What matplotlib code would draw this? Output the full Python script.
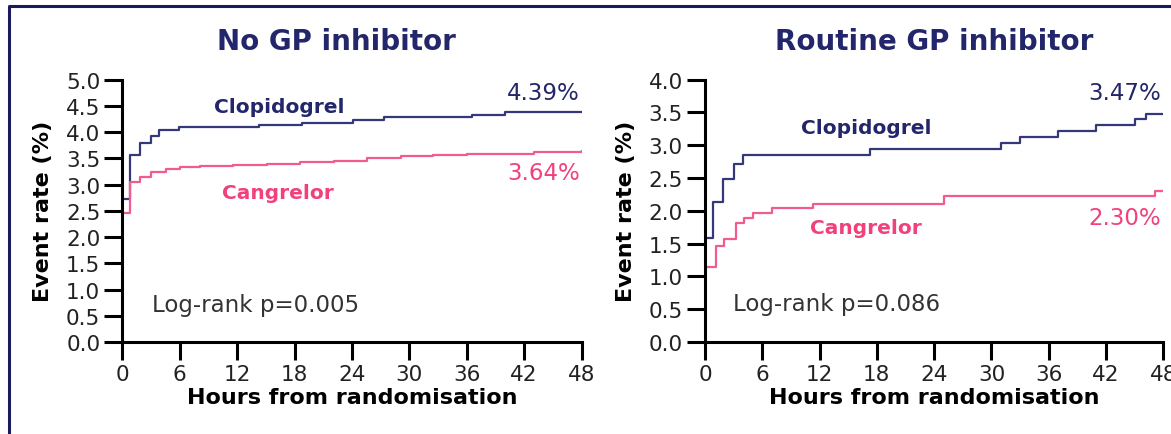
import matplotlib
matplotlib.use('Agg')
import matplotlib.pyplot as plt
from matplotlib.lines import Line2D

# values
hours_ticks = [0, 6, 12, 18, 24, 30, 36, 42, 48]

# No GP inhibitor
clop_t1 = [0, 0.8, 1.85, 2.96, 3.87, 5.86, 14.3, 18.8, 24.1, 27.3, 36.5, 40.0, 48]
clop_y1 = [2.72, 3.56, 3.80, 3.92, 4.03, 4.10, 4.13, 4.17, 4.23, 4.28, 4.33, 4.39, 4.39]
cang_t1 = [0, 0.8, 1.85, 2.96, 4.6, 6, 8.1, 11.6, 15.1, 18.6, 22.1, 25.6, 29.1, 32.5, 36, 43, 48]
cang_y1 = [2.46, 3.04, 3.14, 3.23, 3.30, 3.33, 3.35, 3.37, 3.39, 3.42, 3.45, 3.50, 3.55, 3.56, 3.58, 3.61, 3.64]

# Routine GP inhibitor
clop_t2 = [0, 0.87, 1.92, 3.04, 4.01, 17.3, 31.0, 33.0, 37.0, 40.9, 45.0, 46.2, 48]
clop_y2 = [1.58, 2.13, 2.49, 2.71, 2.85, 2.94, 3.03, 3.12, 3.21, 3.30, 3.40, 3.47, 3.47]
cang_t2 = [0, 1.12, 2.0, 3.2, 4.1, 5.0, 7.0, 11.3, 25.0, 47.1, 48]
cang_y2 = [1.15, 1.47, 1.57, 1.81, 1.89, 1.96, 2.04, 2.11, 2.22, 2.30, 2.30]

navy = '#23266a'
navy_line = '#343878'
pink = '#f2417a'
pink_line = '#f25c8c'
grey = '#333333'

plt.rcParams['font.family'] = 'DejaVu Sans'

fig = plt.figure(figsize=(11.71, 4.35), dpi=100)

# frame round the figure (only left and top visible in the reference)
fig.add_artist(Line2D([0.0075, 0.0075, 1.0], [0.0, 0.984, 0.984], transform=fig.transFigure,
                      color='#1a1a5c', lw=2.2))

panels = [
    dict(pos=[0.1046, 0.2115, 0.392, 0.6034], ymax=5.0, title='No GP inhibitor', tx=0.287,
         clop=(clop_t1, clop_y1), cang=(cang_t1, cang_y1),
         clop_lab=(16.4, 4.49), cang_lab=(16.3, 2.85),
         end1=('4.39%', 4.75), end2=('3.64%', 3.23), p=('Log-rank p=0.005', 3.1, 0.72)),
    dict(pos=[0.602, 0.2115, 0.3915, 0.6034], ymax=4.0, title='Routine GP inhibitor', tx=0.7975,
         clop=(clop_t2, clop_y2), cang=(cang_t2, cang_y2),
         clop_lab=(16.9, 3.27), cang_lab=(16.9, 1.75),
         end1=('3.47%', 3.80), end2=('2.30%', 1.89), p=('Log-rank p=0.086', 2.9, 0.58)),
]

for pn in panels:
    ax = fig.add_axes(pn['pos'])
    ax.step(pn['clop'][0], pn['clop'][1], where='post', color=navy_line, lw=1.6)
    ax.step(pn['cang'][0], pn['cang'][1], where='post', color=pink_line, lw=1.6)

    ax.set_xlim(0, 48)
    ax.set_ylim(0, pn['ymax'])
    ax.set_xticks(hours_ticks)
    yt = [i * 0.5 for i in range(int(pn['ymax'] / 0.5) + 1)]
    ax.set_yticks(yt)
    ax.set_yticklabels(['%.1f' % v for v in yt])
    for s in ['top', 'right']:
        ax.spines[s].set_visible(False)
    for s in ['left', 'bottom']:
        ax.spines[s].set_linewidth(2.2)
    ax.tick_params(axis='both', length=13, width=2.2, labelsize=15.5, colors='black',
                   labelcolor='#222222', pad=3)
    ax.set_xlabel('Hours from randomisation', fontsize=16, fontweight='bold', labelpad=2)
    ax.set_ylabel('Event rate (%)', fontsize=16, fontweight='bold', labelpad=9)

    ax.text(pn['clop_lab'][0], pn['clop_lab'][1], 'Clopidogrel', color=navy, fontsize=14.5,
            fontweight='bold', ha='center', va='center')
    ax.text(pn['cang_lab'][0], pn['cang_lab'][1], 'Cangrelor', color=pink, fontsize=14.5,
            fontweight='bold', ha='center', va='center')
    ax.text(47.8, pn['end1'][1], pn['end1'][0], color=navy, fontsize=16.5, ha='right', va='center')
    ax.text(47.8, pn['end2'][1], pn['end2'][0], color=pink, fontsize=16.5, ha='right', va='center')
    ax.text(pn['p'][1], pn['p'][2], pn['p'][0], color=grey, fontsize=16.5, ha='left', va='center')

    fig.text(pn['tx'], 0.903, pn['title'], color=navy, fontsize=20, fontweight='bold',
             ha='center', va='center')

fig.savefig('out.png', dpi=100, facecolor='white')
